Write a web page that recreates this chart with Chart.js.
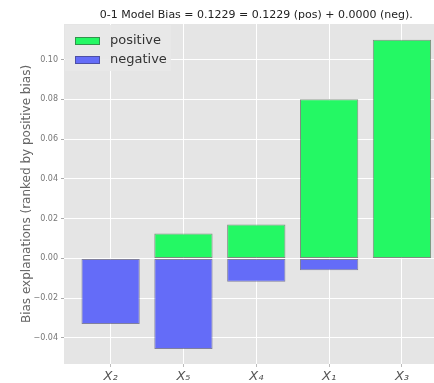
<!DOCTYPE html>
<html>
<head>
<meta charset="utf-8">
<script src="https://cdn.jsdelivr.net/npm/chart.js@4/dist/chart.umd.min.js"></script>
<style>
  body { margin: 0; background: #fff; overflow: hidden; }
  canvas { display: block; }
</style>
</head>
<body>
<canvas id="biasChart" width="434" height="383"></canvas>
<script>
// Datos
var categorias = ['X\u2082', 'X\u2085', 'X\u2084', 'X\u2081', 'X\u2083'];
var sesgoPositivo = [0.0, 0.0125, 0.017, 0.080, 0.110];
var sesgoNegativo = [-0.033, -0.0456, -0.0117, -0.0059, 0.0];
var ticksY = [-0.04, -0.02, 0.00, 0.02, 0.04, 0.06, 0.08, 0.10];
var titulo = '0-1 Model Bias = 0.1229 = 0.1229 (pos) + 0.0000 (neg).';

var FUENTE = "'DejaVu Sans', sans-serif";

function puntos(valores) {
    return valores.map(function(v, i) { return { x: i, y: v }; });
}

// Fondo gris estilo ggplot
var fondoPlugin = {
    id: 'fondo',
    beforeDraw: function(chart) {
        var a = chart.chartArea, ctx = chart.ctx;
        ctx.save();
        ctx.fillStyle = '#e5e5e5';
        ctx.fillRect(a.left, a.top, a.right - a.left, a.bottom - a.top);
        ctx.restore();
    }
};

// Titulo y leyenda dentro del area
var extrasPlugin = {
    id: 'extras',
    afterDatasetsDraw: function(chart) {
        var ctx = chart.ctx, a = chart.chartArea, xs = chart.scales.x;
        ctx.save();
        // titulo centrado en el eje completo
        var cx = xs.getPixelForValue(2);
        ctx.fillStyle = '#222';
        ctx.font = '11px ' + FUENTE;
        ctx.textAlign = 'center';
        ctx.textBaseline = 'middle';
        ctx.fillText(titulo, cx, 15);

        // leyenda
        var x0 = a.left + 1, y0 = a.top + 1;
        ctx.fillStyle = 'rgba(232,232,232,0.9)';
        ctx.fillRect(x0, y0, 106, 46);
        ctx.font = '13px ' + FUENTE;
        ctx.textAlign = 'left';
        chart.data.datasets.forEach(function(ds, i) {
            var py = y0 + 12 + i * 19;
            ctx.fillStyle = ds.backgroundColor;
            ctx.fillRect(x0 + 10, py, 25, 8);
            ctx.strokeStyle = ds.borderColor;
            ctx.lineWidth = 1;
            ctx.strokeRect(x0 + 10.5, py + 0.5, 24, 7);
            ctx.fillStyle = '#333';
            ctx.fillText(ds.label, x0 + 45, py + 4);
        });
        ctx.restore();
    }
};

var ctx = document.getElementById('biasChart').getContext('2d');

var config = {
    type: 'bar',
    data: {
        datasets: [{
            label: 'positive',
            data: puntos(sesgoPositivo),
            backgroundColor: '#24f864',
            borderColor: 'rgba(60,80,60,0.6)',
            borderWidth: 1,
            borderSkipped: false,
            grouped: false,
            barPercentage: 0.8,
            categoryPercentage: 1.0
        }, {
            label: 'negative',
            data: puntos(sesgoNegativo),
            backgroundColor: '#646cf8',
            borderColor: 'rgba(60,60,110,0.6)',
            borderWidth: 1,
            borderSkipped: false,
            grouped: false,
            barPercentage: 0.8,
            categoryPercentage: 1.0
        }]
    },
    options: {
        responsive: false,
        animation: false,
        devicePixelRatio: 1,
        layout: { padding: { top: 24, right: 0, left: 0, bottom: 0 } },
        plugins: {
            legend: { display: false },
            tooltip: { enabled: false },
            title: { display: false }
        },
        scales: {
            x: {
                type: 'linear',
                min: -0.64,
                max: 4.44,
                offset: false,
                afterBuildTicks: function(s) {
                    s.ticks = categorias.map(function(c, i) { return { value: i }; });
                },
                afterFit: function(s) { s.height = 19; },
                ticks: {
                    callback: function(v) { return categorias[v]; },
                    color: '#555',
                    font: { family: FUENTE, size: 13, style: 'italic' },
                    padding: 2,
                    maxRotation: 0
                },
                grid: { offset: false, color: '#ffffff', lineWidth: 1, tickLength: 3, tickColor: '#bbb' },
                border: { display: false }
            },
            y: {
                min: -0.0531,
                max: 0.1179,
                afterBuildTicks: function(s) {
                    s.ticks = ticksY.map(function(v) { return { value: v }; });
                },
                afterFit: function(s) { s.width = 64; },
                ticks: {
                    callback: function(v) {
                        var t = Math.abs(v).toFixed(2);
                        return v < -1e-9 ? '\u2212' + t : t;
                    },
                    color: '#777',
                    font: { family: FUENTE, size: 8 },
                    padding: 3
                },
                grid: { color: '#ffffff', lineWidth: 1, tickLength: 3, tickColor: '#aaa' },
                border: { display: false },
                title: {
                    display: true,
                    text: 'Bias explanations (ranked by positive bias)',
                    color: '#666',
                    font: { family: FUENTE, size: 12 },
                    padding: { top: 20, bottom: 4 }
                }
            }
        }
    },
    plugins: [fondoPlugin, extrasPlugin]
};

var grafico = new Chart(ctx, config);
</script>
</body>
</html>
